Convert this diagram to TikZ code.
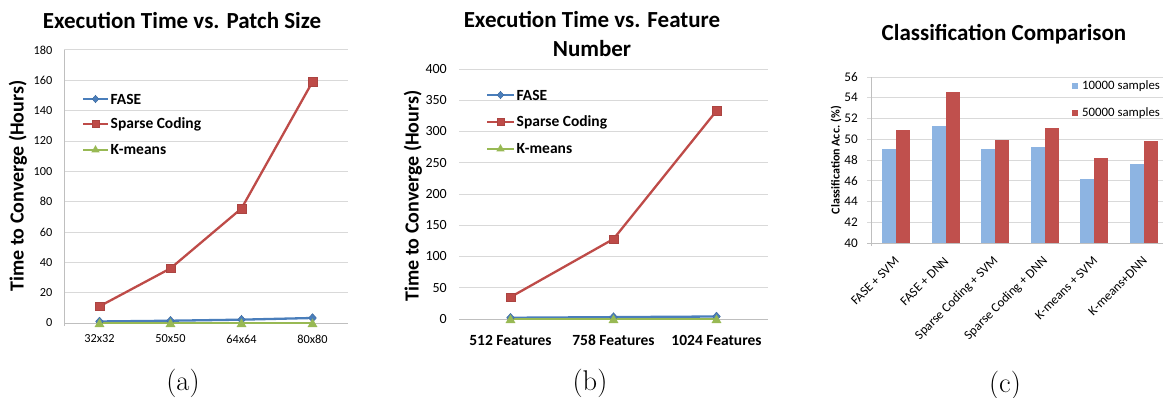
\documentclass[tikz,border=0pt]{standalone}
\usepackage{fontspec}
\newfontfamily\calib{Carlito}
\usetikzlibrary{shapes.geometric,calc}
\definecolor{faseblue}{HTML}{4A7EBB}
\definecolor{sparsered}{HTML}{BE4B48}
\definecolor{kmgreen}{HTML}{98B954}
\definecolor{barblue}{HTML}{8DB4E2}
\definecolor{barred}{HTML}{C0504D}
\definecolor{gridgray}{HTML}{D9D9D9}
\definecolor{axisgray}{HTML}{BFBFBF}
\newcommand\fsz[1]{\fontsize{#1}{#1}\selectfont}
\tikzset{
  gridline/.style={draw=gridgray, line width=0.9pt},
  axisline/.style={draw=axisgray, line width=0.9pt},
  series/.style={line width=2.3pt, line join=round},
  fasemark/.style={diamond, fill=faseblue, draw=faseblue!85!black, line width=0.4pt,
    inner sep=0pt, minimum width=8pt, minimum height=9pt},
  sparsemark/.style={rectangle, fill=sparsered, draw=sparsered!90!black, line width=0.4pt,
    inner sep=0pt, minimum size=8.5pt},
  kmmark/.style={regular polygon, regular polygon sides=3, fill=kmgreen,
    inner sep=0pt, minimum size=11.5pt},
  charttitle/.style={font=\calib\bfseries\fsz{23}, inner sep=0pt, align=center},
  ylab/.style={font=\calib\bfseries\fsz{20}, rotate=90, inner sep=0pt},
  legtext/.style={font=\calib\bfseries\fsz{15.5}, anchor=west, inner sep=0pt},
  caption/.style={font=\fsz{28.5}, anchor=base, inner sep=0pt},
}
\begin{document}
\begin{tikzpicture}[x=1pt, y=-1pt]
\useasboundingbox (0,0) rectangle (1163,398);

% ---------------- (a) execution time vs. patch size ----------------
\node[charttitle] (ta) at (182,21) {Execution Time vs. Patch Size};
\node[ylab] (ya) at (18,186) {Time to Converge (Hours)};
\foreach \v in {0,20,...,180}
  \node[font=\calib\fsz{12.3}, anchor=east, inner sep=0pt] (a-t\v) at (52.5,{323-\v*1.517}) {\v};
\foreach \x/\t [count=\i] in {99.5/32x32, 170.5/50x50, 241.5/64x64, 312.5/80x80}
  \node[font=\calib\fsz{12.3}, inner sep=0pt] (a-x\i) at (\x,339) {\t};
\begin{scope}[x=1pt, yshift=-323pt, y=1.517pt]
  \foreach \v in {20,40,...,180} \draw[gridline] (64,\v) -- (348,\v);
  \draw[axisline] (64,0) -- (348,0);
  \draw[axisline] (64,-2) -- (64,180);
  \foreach \x/\f/\s/\k [count=\i] in {99.5/1/11/0.2, 170.5/1.5/36/0.2, 241.5/2.2/75.5/0.2, 312.5/3.3/159/0.2}{
    \coordinate (a-f\i) at (\x,\f);
    \coordinate (a-s\i) at (\x,\s);
    \coordinate (a-k\i) at (\x,\k);
  }
\end{scope}
\draw[series, sparsered] (a-s1) -- (a-s2) -- (a-s3) -- (a-s4);
\draw[series, faseblue] (a-f1) -- (a-f2) -- (a-f3) -- (a-f4);
\draw[series, kmgreen] (a-k1) -- (a-k2) -- (a-k3) -- (a-k4);
\foreach \i in {1,...,4}{
  \node[sparsemark] (a-sm\i) at (a-s\i) {};
  \node[fasemark] (a-fm\i) at (a-f\i) {};
  \node[kmmark] (a-km\i) at ([yshift=-1.5pt]a-k\i) {};
}
% legend
\foreach \n/\c/\m/\y/\t in {1/faseblue/fasemark/99/FASE, 2/sparsered/sparsemark/124/Sparse Coding, 3/kmgreen/kmmark/150/K-means}{
  \coordinate (a-la\n) at (83,\y);
  \coordinate (a-lb\n) at (108,\y);
  \draw[series, \c] (a-la\n) -- (a-lb\n);
  \node[\m, scale=0.85] (a-lm\n) at ($(a-la\n)!0.5!(a-lb\n)$) {};
  \node[legtext] (a-lt\n) at (110.5,\y) {\t};
}
\node[caption] (ca) at (183,390) {(a)};

% ---------------- (b) execution time vs. feature number ----------------
\node[charttitle] (tb1) at (592,20) {Execution Time vs. Feature};
\node[charttitle] (tb2) at (592,49) {Number};
\node[ylab] (yb) at (413,196) {Time to Converge (Hours)};
\foreach \v in {0,50,...,400}
  \node[font=\calib\fsz{14}, anchor=east, inner sep=0pt] (b-t\v) at (447,{319-\v*0.625}) {\v};
\foreach \x/\t [count=\i] in {510.5/512 Features, 613.5/758 Features, 716.5/1024 Features}
  \node[font=\calib\bfseries\fsz{15.5}, inner sep=0pt] (b-x\i) at (\x,340) {\t};
\begin{scope}[x=1pt, yshift=-319pt, y=0.625pt]
  \foreach \v in {50,100,...,400} \draw[gridline] (459,\v) -- (768,\v);
  \draw[axisline] (459,0) -- (768,0);
  \foreach \x/\f/\s/\k [count=\i] in {510.5/2/35/0.5, 613.5/3/128/0.5, 716.5/4/333/0.5}{
    \coordinate (b-f\i) at (\x,\f);
    \coordinate (b-s\i) at (\x,\s);
    \coordinate (b-k\i) at (\x,\k);
  }
\end{scope}
\draw[series, sparsered] (b-s1) -- (b-s2) -- (b-s3);
\draw[series, faseblue] (b-f1) -- (b-f2) -- (b-f3);
\draw[series, kmgreen] (b-k1) -- (b-k2) -- (b-k3);
\foreach \i in {1,2,3}{
  \node[sparsemark] (b-sm\i) at (b-s\i) {};
  \node[fasemark] (b-fm\i) at (b-f\i) {};
  \node[kmmark] (b-km\i) at ([yshift=-1.5pt]b-k\i) {};
}
\foreach \n/\c/\m/\y/\t in {1/faseblue/fasemark/95/FASE, 2/sparsered/sparsemark/122/Sparse Coding, 3/kmgreen/kmmark/149/K-means}{
  \coordinate (b-la\n) at (487,\y);
  \coordinate (b-lb\n) at (514,\y);
  \draw[series, \c] (b-la\n) -- (b-lb\n);
  \node[\m, scale=0.85] (b-lm\n) at ($(b-la\n)!0.5!(b-lb\n)$) {};
  \node[legtext] (b-lt\n) at (516.5,\y) {\t};
}
\node[caption] (cb) at (590,390) {(b)};

% ---------------- (c) classification comparison ----------------
\node[charttitle] (tc) at (1004,34) {Classification Comparison};
\node[font=\calib\bfseries\fsz{12}, rotate=90, inner sep=0pt] (yc) at (836,160) {Classification Acc. (\%)};
\foreach \v in {40,42,...,56}
  \node[font=\calib\fsz{13.2}, anchor=east, inner sep=0pt] (c-t\v) at (858,{243-(\v-40)*10.375}) {\v};
\begin{scope}[x=1pt, yshift=-243pt, y=10.375pt]
  \foreach \v in {2,4,...,16} \draw[gridline] (867,\v) -- (1163,\v);
  \draw[axisline] (867,0) -- (1163,0);
  \draw[axisline] (871,-0.3) -- (871,16);
  \foreach \b/\r [count=\i from 0] in {49.1/50.85, 51.25/54.55, 49.1/49.95, 49.25/51.1, 46.15/48.15, 47.6/49.8}{
    \pgfmathsetmacro\cx{896+49.6*\i}
    \fill[barblue] (\cx-14,0) rectangle (\cx,\b-40);
    \fill[barred] (\cx,0) rectangle (\cx+14,\r-40);
  }
\end{scope}
\foreach \t [count=\i from 0] in {FASE + SVM, FASE + DNN, Sparse Coding + SVM, Sparse Coding + DNN, K-means + SVM, K-means+DNN}
  \node[font=\calib\fsz{13}, rotate=45, anchor=east, inner sep=0pt] (c-x\i) at ({897+49.6*\i},259) {\t};
\node[rectangle, fill=barblue, inner sep=0pt, minimum size=6.5pt] (c-lm1) at (1075,86) {};
\node[font=\calib\fsz{12.8}, anchor=west, inner sep=0pt] (c-lt1) at (1082,86) {10000 samples};
\node[rectangle, fill=barred, inner sep=0pt, minimum size=6.5pt] (c-lm2) at (1075,113) {};
\node[font=\calib\fsz{12.8}, anchor=west, inner sep=0pt] (c-lt2) at (1082,113) {50000 samples};
\node[caption] (cc) at (1005,392) {(c)};
\end{tikzpicture}
\end{document}
